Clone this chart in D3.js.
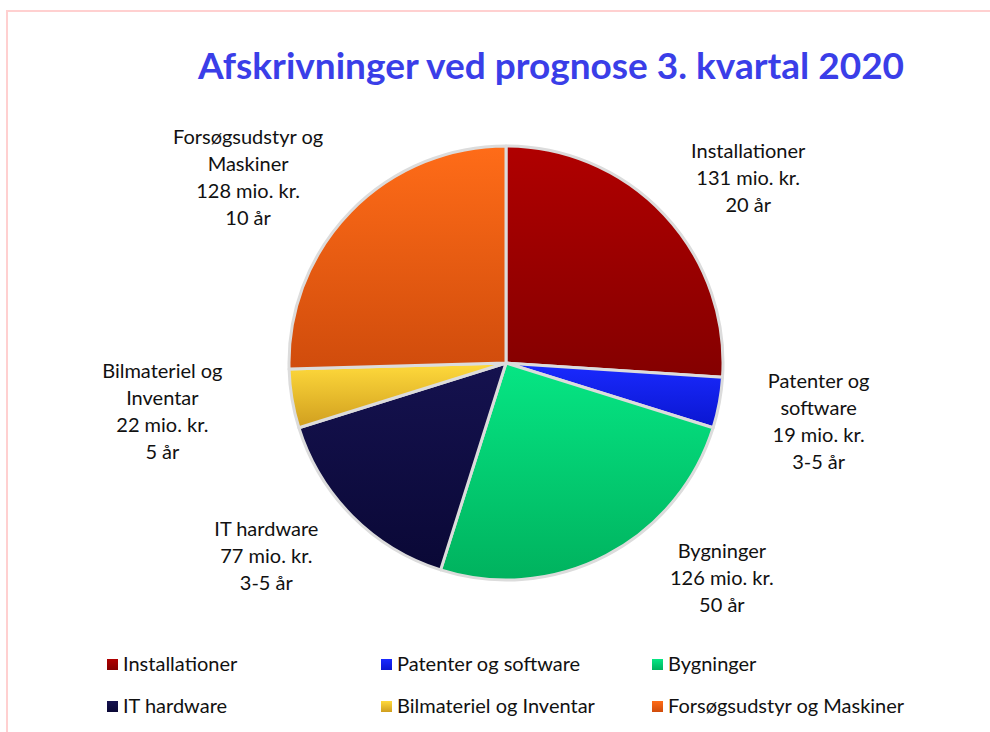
<!DOCTYPE html>
<html>
<head>
<meta charset="utf-8">
<script src="https://cdn.jsdelivr.net/npm/d3@7"></script>
<style>
  html, body { margin: 0; padding: 0; background: #fff; }
  svg { display: block; }
</style>
</head>
<body>
<div id="chart"></div>
<script>
// data
const categories = ['Installationer', 'Patenter og software', 'Bygninger', 'IT hardware', 'Bilmateriel og Inventar', 'Forsøgsudstyr og Maskiner'];
const values = [131, 19, 126, 77, 22, 128];
const lifetimes = ['20 år', '3-5 år', '50 år', '3-5 år', '5 år', '10 år'];
// label text is wrapped like in the reference
const labelLines = [
  ['Installationer'],
  ['Patenter og', 'software'],
  ['Bygninger'],
  ['IT hardware'],
  ['Bilmateriel og', 'Inventar'],
  ['Forsøgsudstyr og', 'Maskiner']
];
const gradTop = ['#b00000', '#1a2aff', '#06e684', '#15124f', '#ffda3c', '#ff6c18'];
const gradBottom = ['#840000', '#0a16d0', '#00b25e', '#0a0836', '#d09e1e', '#d04c0c'];

(function() {
  const width = 990, height = 732;
  const cx = 506, cy = 363, r = 217;
  const font = 'Lato, "Open Sans", sans-serif';

  const svg = d3.select('#chart').append('svg')
    .attr('width', width).attr('height', height)
    .attr('viewBox', `0 0 ${width} ${height}`);

  // faint pink frame (only top + left visible in the reference)
  svg.append('rect')
    .attr('x', 7).attr('y', 11).attr('width', width + 20).attr('height', height + 20)
    .attr('fill', 'none').attr('stroke', '#ffd0d0').attr('stroke-width', 2);

  const defs = svg.append('defs');
  categories.forEach((c, i) => {
    const g = defs.append('linearGradient')
      .attr('id', 'grad' + i).attr('x1', 0).attr('y1', 0).attr('x2', 0).attr('y2', 1);
    g.append('stop').attr('offset', '0%').attr('stop-color', gradTop[i]);
    g.append('stop').attr('offset', '100%').attr('stop-color', gradBottom[i]);
  });

  svg.append('text')
    .attr('x', 551).attr('y', 79)
    .attr('text-anchor', 'middle')
    .style('font', `bold 37px ${font}`)
    .attr('fill', '#3a3ee8')
    .text('Afskrivninger ved prognose 3. kvartal 2020');

  const pie = d3.pie().sort(null).value(d => d)(values);
  const arc = d3.arc().innerRadius(0).outerRadius(r);

  const g = svg.append('g').attr('transform', `translate(${cx},${cy})`);
  g.selectAll('path')
    .data(pie)
    .join('path')
    .attr('d', arc)
    .attr('fill', (d, i) => `url(#grad${i})`)
    .attr('stroke', '#dcdcdc')
    .attr('stroke-width', 3)
    .attr('stroke-linejoin', 'round');

  // Excel nudges outside labels; angle offset (deg) and distance from centre
  const labelNudge = [[5.7, 305], [0, 318], [-17.5, 305], [6, 308], [1.5, 347], [-8.4, 318]];
  const lineH = 27;
  pie.forEach((d, i) => {
    const mid = (d.startAngle + d.endAngle) / 2 + labelNudge[i][0] * Math.PI / 180;
    const dist = labelNudge[i][1];
    const lx = cx + Math.sin(mid) * dist;
    const ly = cy - Math.cos(mid) * dist;
    const lines = labelLines[i].concat([values[i] + ' mio. kr.', lifetimes[i]]);
    const t = svg.append('text')
      .attr('text-anchor', 'middle')
      .style('font', `20px ${font}`)
      .attr('fill', '#111');
    lines.forEach((ln, k) => {
      t.append('tspan')
        .attr('x', lx)
        .attr('y', ly + (k - (lines.length - 1) / 2) * lineH + 7)
        .text(ln);
    });
  });

  // legend, 3 columns x 2 rows
  const colX = [107, 381, 652];
  const rowY = [664, 706];
  categories.forEach((c, i) => {
    const x = colX[i % 3], y = rowY[Math.floor(i / 3)];
    svg.append('rect')
      .attr('x', x).attr('y', y - 5).attr('width', 11).attr('height', 11)
      .attr('fill', `url(#grad${i})`);
    svg.append('text')
      .attr('x', x + 16).attr('y', y + 7)
      .style('font', `20px ${font}`)
      .attr('fill', '#111')
      .text(c);
  });
})();
</script>
</body>
</html>
